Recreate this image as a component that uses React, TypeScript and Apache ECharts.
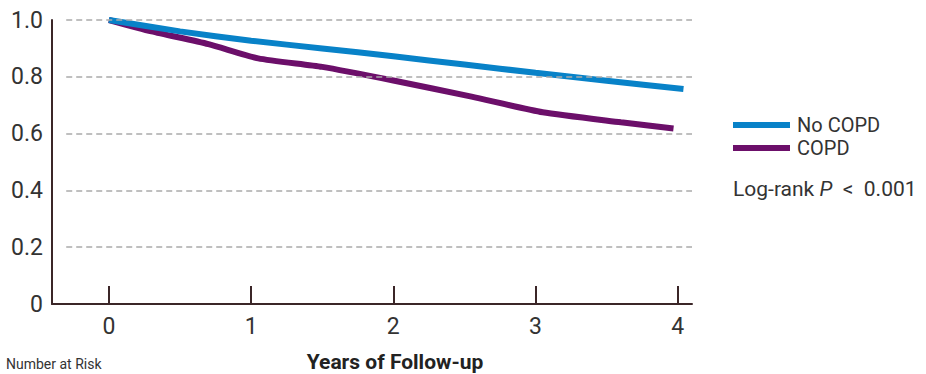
import React, { useEffect, useRef } from "react";
import * as echarts from "echarts";

const noCopdX = [0, 0.5, 1, 1.5, 2, 2.5, 3, 3.5, 4.04];
const noCopdY = [1.0, 0.96, 0.927, 0.9, 0.872, 0.843, 0.814, 0.786, 0.757];
const copdX = [0, 0.3, 0.7, 1.05, 1.5, 2, 2.55, 3.05, 3.6, 3.97];
const copdY = [1.0, 0.96, 0.915, 0.865, 0.835, 0.787, 0.73, 0.675, 0.64, 0.618];
const xTicks = [0, 1, 2, 3, 4];
const gridValues = [0.2, 0.4, 0.6, 0.8, 1.0];

const FONT = "Roboto, 'Liberation Sans', sans-serif";

export default function App() {
  const ref = useRef<HTMLDivElement>(null);
  useEffect(() => {
    if (!ref.current) return;
    const chart = echarts.init(ref.current, undefined, { renderer: "svg" });
    const axisColor = "#3b2628";
    chart.setOption({
      animation: false,
      backgroundColor: "#ffffff",
      grid: { left: 52, top: 20, right: 234, bottom: 70, containLabel: false },
      xAxis: {
        type: "value",
        min: -0.4,
        max: 4.1,
        axisLine: { show: true, onZero: false, lineStyle: { color: axisColor, width: 2 } },
        axisTick: {
          show: true,
          inside: true,
          length: 18,
          customValues: xTicks,
          lineStyle: { color: axisColor, width: 2 },
        },
        axisLabel: {
          customValues: xTicks,
          color: "#333",
          fontSize: 23,
          fontFamily: FONT,
          margin: 11,
        },
        splitLine: { show: false },
      },
      yAxis: {
        type: "value",
        min: 0,
        max: 1,
        interval: 0.2,
        axisLine: { show: true, onZero: false, lineStyle: { color: axisColor, width: 2 } },
        axisTick: { show: false },
        axisLabel: {
          color: "#333",
          fontSize: 23,
          fontFamily: FONT,
          margin: 9,
          formatter: (v: number) => (v === 0 ? "0" : v.toFixed(1)),
        },
        splitLine: { show: false },
      },
      legend: {
        orient: "vertical",
        left: 733,
        top: 115,
        padding: 0,
        icon: "rect",
        itemWidth: 57,
        itemHeight: 6,
        itemGap: 3,
        textStyle: { fontSize: 20, fontFamily: FONT, color: "#333", padding: [0, 0, 0, 2] },
        data: ["No COPD", "COPD"],
      },
      series: [
        {
          name: "grid",
          type: "line",
          data: [],
          silent: true,
          markLine: {
            silent: true,
            symbol: "none",
            label: { show: false },
            lineStyle: { type: [6, 4], color: "#aaaaaa", width: 1.5 },
            data: gridValues.map((v) => [{ coord: [-0.3, v] }, { coord: [4.1, v] }]),
          },
        },
        {
          name: "No COPD",
          type: "line",
          data: noCopdX.map((x, i) => [x, noCopdY[i]]),
          showSymbol: false,
          smooth: 0.2,
          lineStyle: { color: "#0882c8", width: 6 },
          itemStyle: { color: "#0882c8" },
        },
        {
          name: "COPD",
          type: "line",
          data: copdX.map((x, i) => [x, copdY[i]]),
          showSymbol: false,
          smooth: 0.2,
          z: 1,
          lineStyle: { color: "#6c0f6a", width: 6 },
          itemStyle: { color: "#6c0f6a" },
        },
      ],
      graphic: [
        {
          type: "text",
          left: 733,
          top: 178,
          style: {
            text: "Log-rank {i|P}  <  0.001",
            fontSize: 21,
            fontFamily: FONT,
            fill: "#333",
            rich: { i: { fontStyle: "italic", fontSize: 21, fontFamily: FONT, fill: "#333" } },
          },
        },
        {
          type: "text",
          x: 395,
          y: 362,
          style: {
            text: "Years of Follow-up",
            fontSize: 21,
            fontWeight: "bold",
            fontFamily: "'Liberation Sans Narrow', " + FONT,
            fill: "#222",
            align: "center",
            verticalAlign: "middle",
          },
        },
        {
          type: "text",
          left: 6,
          top: 357,
          style: {
            text: "Number at Risk",
            fontSize: 14,
            fontFamily: FONT,
            fill: "#333",
          },
        },
      ],
    });
    return () => chart.dispose();
  }, []);
  return <div ref={ref} style={{ width: 926, height: 374, position: "fixed", left: 0, top: 0 }} />;
}
